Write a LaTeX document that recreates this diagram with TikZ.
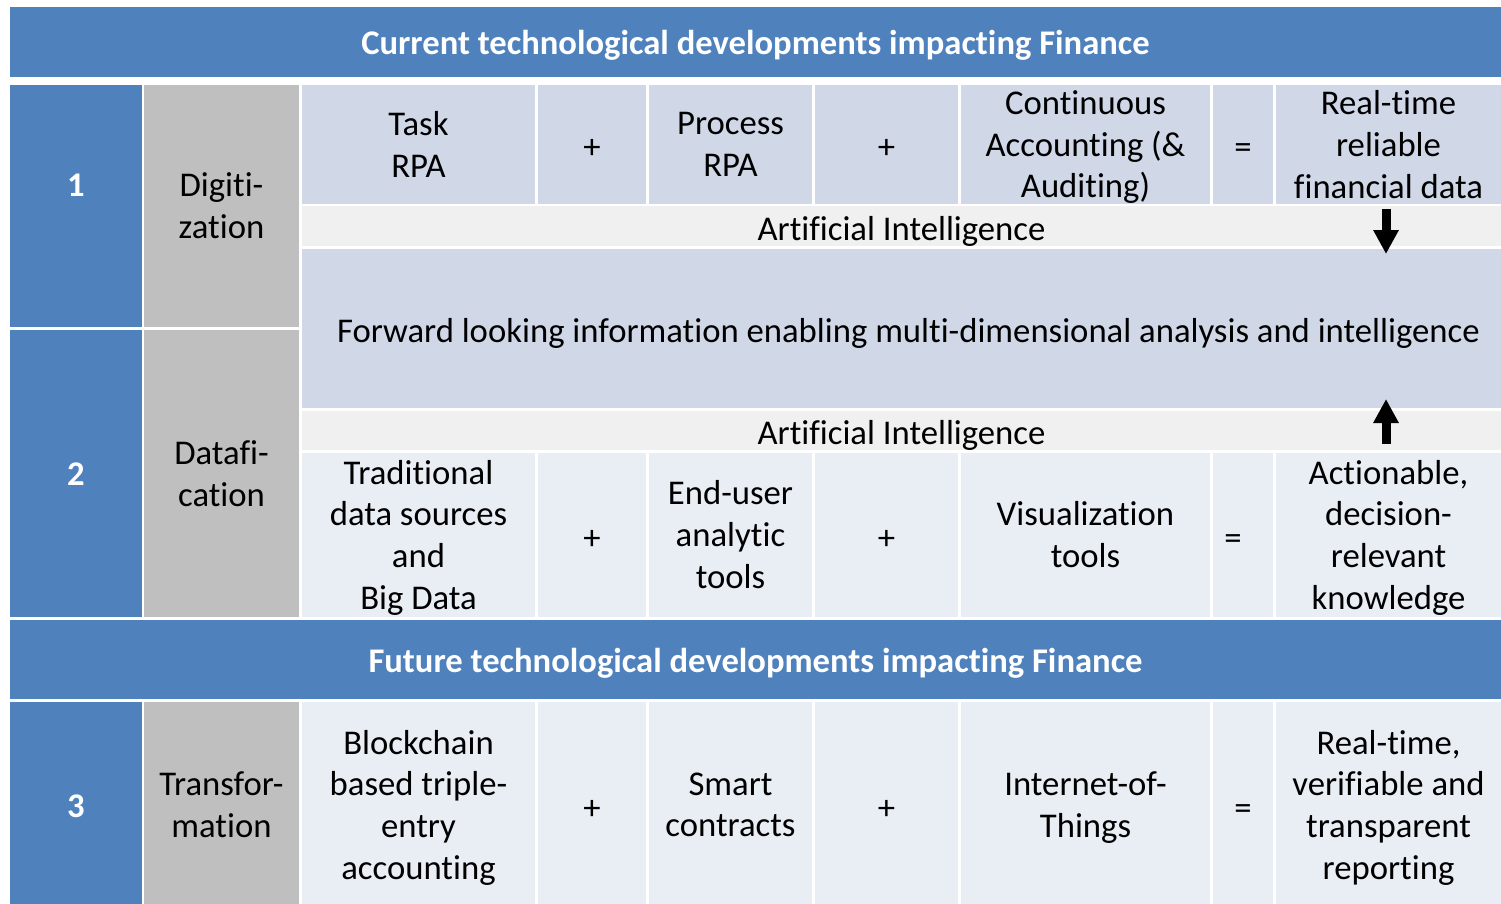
\documentclass[tikz,border=0pt]{standalone}
\usepackage{fontspec}
\setmainfont{Carlito}[Ligatures={NoCommon}]
\usetikzlibrary{arrows.meta}
\definecolor{hblue}{HTML}{4F81BD}
\definecolor{lgray}{HTML}{BFBFBF}
\definecolor{cellA}{HTML}{D0D8E8}
\definecolor{cellB}{HTML}{E9EDF4}
\definecolor{band}{HTML}{F0F0F0}
\tikzset{
  cell/.style={rectangle, inner sep=0pt, outer sep=0pt, align=center, draw=none,
    font=\fontsize{34.7}{41.8}\selectfont,
    execute at begin node=\strut, execute at end node=\strut},
  headtxt/.style={cell, text=white, font=\fontsize{34.6}{40}\selectfont\bfseries},
  blockarrow/.style={line width=9pt, -{Triangle[width=24pt,length=24pt]}}
}
% name, x1, y1, x2, y2, fill, text
\newcommand\cellbox[7]{%
  \fill[#6] (#2,#3) rectangle (#4,#5);
  \node[cell] (#1) at ({(#2+#4)/2},{(#3+#5)/2+6}) {#7};}
\newcommand\headbox[7]{%
  \fill[#6] (#2,#3) rectangle (#4,#5);
  \node[headtxt] (#1) at ({(#2+#4)/2},{(#3+#5)/2+5}) {#7};}
\newcommand\numbox[7]{%
  \fill[#6] (#2,#3) rectangle (#4,#5);
  \node[headtxt] (#1) at ({(#2+#4)/2},{(#3+#5)/2+4}) {#7};}
\begin{document}
\begin{tikzpicture}[x=1pt,y=-1pt]
\fill[white] (0,0) rectangle (1501,904);
\useasboundingbox (0,0) rectangle (1501,904);
% headers
\headbox{h1}{10}{7}{1501}{77}{hblue}{Current technological developments impacting Finance}
\headbox{h2}{10}{620}{1501}{699}{hblue}{Future technological developments impacting Finance}
% left columns
\fill[hblue] (10,85) rectangle (142,327);
\node[headtxt] (n1) at (76,189) {1};
\numbox{n2}{10}{330}{142}{617}{hblue}{2}
\numbox{n3}{10}{702}{142}{908}{hblue}{3}
\cellbox{d1}{144}{85}{299}{327}{lgray}{Digiti-\\zation}
\cellbox{d2}{144}{330}{299}{617}{lgray}{Datafi-\\cation}
\cellbox{d3}{144}{702}{299}{908}{lgray}{Transfor-\\mation}
% row 1
\cellbox{a1}{302}{85}{535}{204}{cellA}{Task\\RPA}
\cellbox{a2}{538}{85}{646}{204}{cellA}{+}
\cellbox{a3}{649}{85}{812}{204}{cellA}{Process\\RPA}
\cellbox{a4}{815}{85}{958}{204}{cellA}{+}
\cellbox{a5}{961}{85}{1210}{204}{cellA}{Continuous\\Accounting (\&\\Auditing)}
\cellbox{a6}{1213}{85}{1273}{204}{cellA}{=}
\cellbox{a7}{1276}{85}{1501}{204}{cellA}{Real-time\\reliable\\financial data}
% AI bands and forward box
\cellbox{ai1}{302}{206}{1501}{246}{band}{Artificial Intelligence}
\cellbox{fw}{302}{249}{1501}{408}{cellA}{\hspace*{14pt}Forward looking information enabling multi-dimensional analysis and intelligence}
\cellbox{ai2}{302}{411}{1501}{450}{band}{Artificial Intelligence}
% row 2
\cellbox{b1}{302}{453}{535}{617}{cellB}{Traditional\\data sources\\and\\Big Data}
\cellbox{b2}{538}{453}{646}{617}{cellB}{+}
\cellbox{b3}{649}{453}{812}{617}{cellB}{End-user\\analytic\\tools}
\cellbox{b4}{815}{453}{958}{617}{cellB}{+}
\cellbox{b5}{961}{453}{1210}{617}{cellB}{Visualization\\tools}
\cellbox{b6}{1213}{453}{1273}{617}{cellB}{=\kern20pt}
\cellbox{b7}{1276}{453}{1501}{617}{cellB}{Actionable,\\decision-\\relevant\\knowledge}
% row 3
\cellbox{c1}{302}{702}{535}{908}{cellB}{Blockchain\\based triple-\\entry\\accounting}
\cellbox{c2}{538}{702}{646}{908}{cellB}{+}
\cellbox{c3}{649}{702}{812}{908}{cellB}{Smart\\contracts}
\cellbox{c4}{815}{702}{958}{908}{cellB}{+}
\cellbox{c5}{961}{702}{1210}{908}{cellB}{Internet-of-\\Things}
\cellbox{c6}{1213}{702}{1273}{908}{cellB}{=}
\cellbox{c7}{1276}{702}{1501}{908}{cellB}{Real-time,\\verifiable and\\transparent\\reporting}
% arrows
\coordinate (dA) at (1386,209);
\coordinate (dB) at (1386,254);
\coordinate (uA) at (1386,444);
\coordinate (uB) at (1386,399);
\draw[blockarrow] (dA) -- (dB);
\draw[blockarrow] (uA) -- (uB);
\end{tikzpicture}
\end{document}
